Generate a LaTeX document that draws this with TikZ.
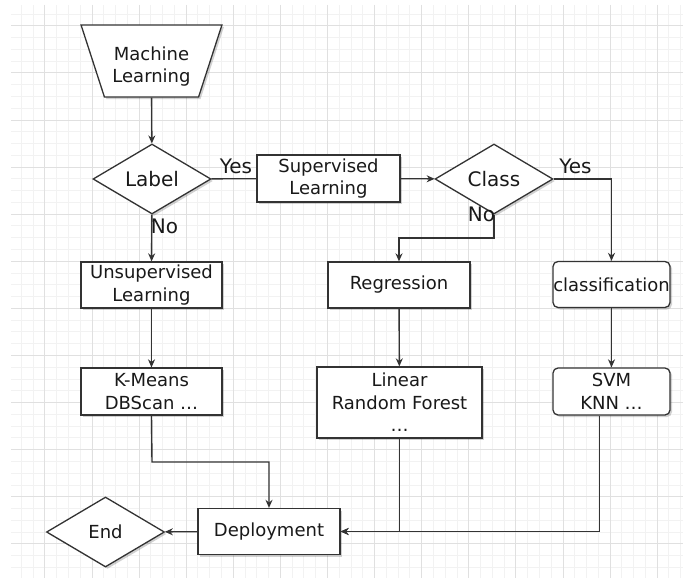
\documentclass[tikz,border=0pt]{standalone}
\usepackage{fontspec}
\setmainfont{DejaVu Sans}
\usetikzlibrary{shapes.geometric,shadows,arrows.meta}
\definecolor{linegray}{HTML}{333333}
\definecolor{gridminor}{HTML}{F2F2F2}
\definecolor{gridmajor}{HTML}{E0E0E0}
\begin{document}
\begin{tikzpicture}[x=1pt,y=-1pt,
    shape base/.style={draw=linegray, line width=1.3pt, fill=white, inner sep=0pt,
        align=center, text=black!90, font=\fontsize{18}{22.5}\selectfont,
        drop shadow={shadow xshift=2pt, shadow yshift=-2pt, fill=black, opacity=0.18}},
    box/.style={shape base, rectangle},
    roundbox/.style={shape base, rectangle, rounded corners=5pt},
    decision/.style={shape base, diamond, minimum width=118pt, minimum height=70pt},
    start/.style={shape base, trapezium, trapezium left angle=69, trapezium right angle=69,
        shape border rotate=180, trapezium stretches=true, minimum width=141pt, minimum height=72pt},
    answer/.style={font=\fontsize{20}{24}\selectfont, text=black!90, inner sep=0pt},
    arr/.style={draw=linegray, line width=1.4pt, -{Stealth[length=8pt,width=7pt]}},
    link/.style={draw=linegray, line width=1.4pt}]
    \useasboundingbox (0,0) rectangle (683,578);
    % grid
    \begin{scope}
        \clip (11,5) rectangle (683,578);
        \foreach \i in {-50,...,6}
            \draw[gridminor, line width=0.8pt] ({610+11.775*\i},5) -- ({610+11.775*\i},578);
        \foreach \j in {-1,...,46}
            \draw[gridminor, line width=0.8pt] (11,{25.7+11.775*\j}) -- (683,{25.7+11.775*\j});
        \foreach \i in {-12,...,1}
            \draw[gridmajor, line width=0.8pt] ({610+47.1*\i},5) -- ({610+47.1*\i},578);
        \foreach \j in {0,...,11}
            \draw[gridmajor, line width=0.8pt] (11,{25.7+47.1*\j}) -- (683,{25.7+47.1*\j});
    \end{scope}

    \node[start] (ML) at (151.5,61) {\strut\\[-14pt]Machine\\Learning};
    \node[decision, font=\fontsize{20}{24}\selectfont] (Label) at (152,179) {Label};
    \node[box, minimum width=143pt, minimum height=47pt] (Sup) at (328.5,178.5) {Supervised\\Learning};
    \node[decision, font=\fontsize{20}{24}\selectfont] (Class) at (494,179) {Class};
    \node[box, minimum width=141pt, minimum height=46pt] (Unsup) at (151.5,285) {Unsupervised\\Learning};
    \node[box, minimum width=142pt, minimum height=46pt] (Reg) at (399,285) {Regression};
    \node[roundbox, minimum width=117pt, minimum height=46pt] (Cls) at (611.5,284.5) {classification};
    \node[box, minimum width=141pt, minimum height=47pt] (KM) at (151.5,391.5) {K-Means\\DBScan \dots};
    \node[box, minimum width=165pt, minimum height=71pt] (Lin) at (399.5,402.5) {Linear\\Random Forest\\\dots};
    \node[roundbox, minimum width=117pt, minimum height=47pt] (SVM) at (611.5,391.5) {SVM\\KNN \dots};
    \node[box, minimum width=142pt, minimum height=46pt] (Dep) at (269,531.5) {Deployment};
    \node[decision] (End) at (105.5,532) {End};

    \coordinate (CB) at (494,238);
    \coordinate (KB) at (152,462);

    \draw[arr] (ML) -- (Label);
    \draw[link] (Label) -- (Sup);
    \draw[arr] (Sup) -- (Class);
    \draw[arr] (Class.east) -| (Cls.north);
    \draw[arr] (Class.south) -- (CB) -| (Reg.north);
    \draw[arr] (Label) -- (Unsup);
    \draw[arr] (Unsup) -- (KM);
    \draw[arr] (Reg) -- (Lin);
    \draw[arr] (Cls) -- (SVM);
    \draw[arr] (KM.south) -- (KB) -| (Dep.north);
    \draw[arr] (Lin.south) |- (Dep.east);
    \draw[arr] ([xshift=-12pt]SVM.south) |- (Dep.east);
    \draw[arr] (Dep) -- (End);

    \node[answer] (LabelYes) at (236,166) {Yes};
    \node[answer] (LabelNo) at (164.5,226) {No};
    \node[answer] (ClassYes) at (575.5,166) {Yes};
    \node[answer] (ClassNo) at (481.5,214) {No};
\end{tikzpicture}
\end{document}
